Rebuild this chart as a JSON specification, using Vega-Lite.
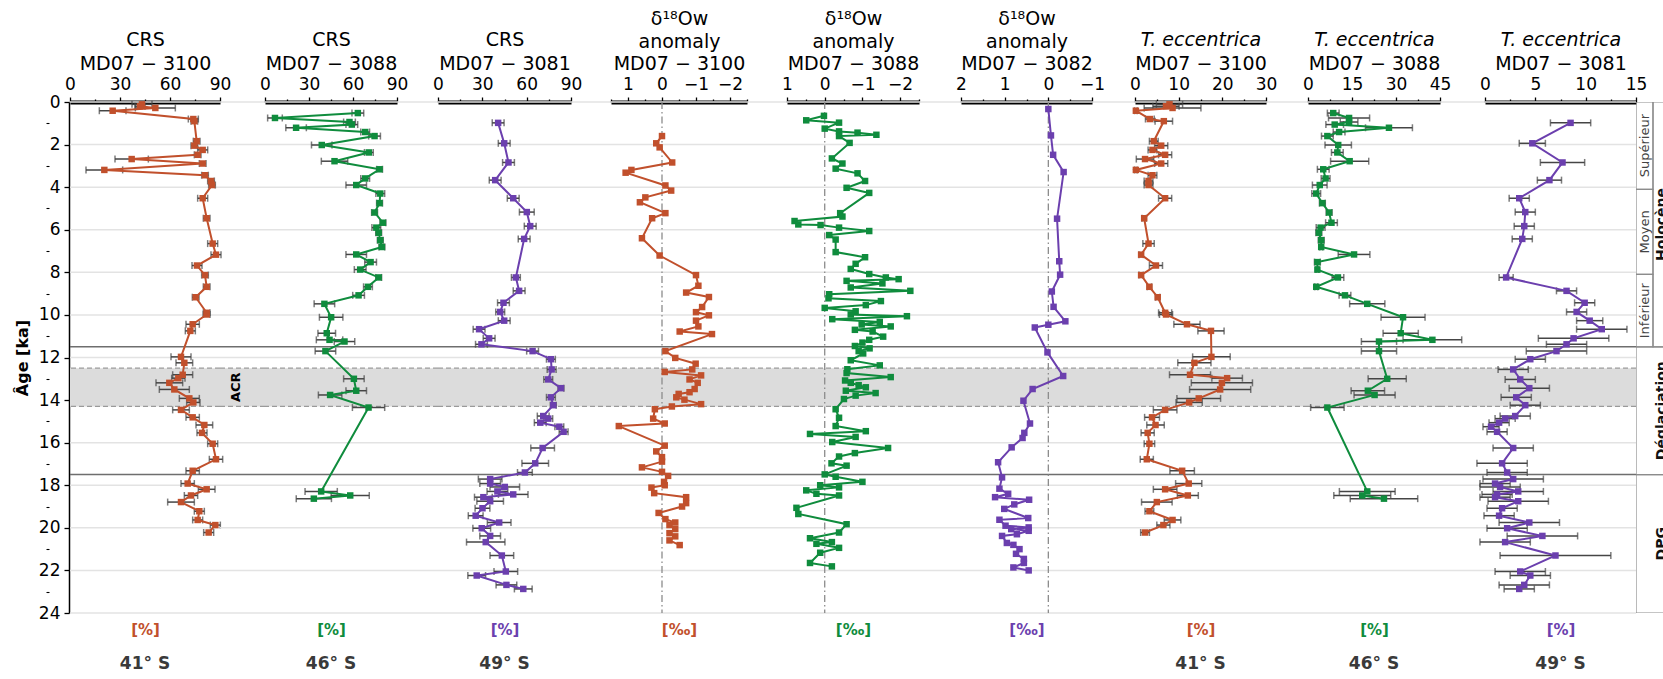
{
"$schema": "https://vega.github.io/schema/vega-lite/v6.json",
"padding": {"left": 14, "top": 9, "right": 0, "bottom": 0},
"background": "white",
"spacing": 0,
"bounds": "flush",
"datasets": {
"gridlines": [{"age": 0}, {"age": 2}, {"age": 4}, {"age": 6}, {"age": 8}, {"age": 10}, {"age": 12}, {"age": 14}, {"age": 16}, {"age": 18}, {"age": 20}, {"age": 22}, {"age": 24}],
"band": [{"start": 12.5, "end": 14.3}],
"bandedges": [{"age": 12.5}, {"age": 14.3}],
"bounds": [{"age": 11.5}, {"age": 17.5}],
"zeroline": [{"v": 0}],
"acr": [{"label": "ACR", "age": 13.4}],
"periods": [
{"label": "Supérieur", "level": "sub", "start": 0, "end": 4.1},
{"label": "Moyen", "level": "sub", "start": 4.1, "end": 8.1},
{"label": "Inférieur", "level": "sub", "start": 8.1, "end": 11.5},
{"label": "Holocène", "level": "main", "start": 0, "end": 11.5},
{"label": "Déglaciation", "level": "main", "start": 11.5, "end": 17.5},
{"label": "DPG", "level": "main", "start": 17.5, "end": 24}],
"crs3100": [
{"age":0.11,"v":43.2,"e":6},{"age":0.2,"v":42,"e":3},{"age":0.28,"v":51.2,"e":12},{"age":0.41,"v":25.6,"e":8},{"age":0.8,"v":74,"e":3},{"age":0.9,"v":74.6,"e":2},{"age":1.84,"v":76,"e":2},{"age":2.05,"v":74.6,"e":2},{"age":2.25,"v":79.6,"e":3},{"age":2.48,"v":76.6,"e":2},{"age":2.68,"v":37,"e":10},{"age":2.89,"v":79.6,"e":2},{"age":3.19,"v":20.6,"e":11},{"age":3.44,"v":81,"e":2},{"age":3.71,"v":84.6,"e":2},{"age":3.9,"v":85.2,"e":2},{"age":4.52,"v":79.6,"e":3},{"age":5.46,"v":82,"e":2},{"age":6.65,"v":85.6,"e":3},{"age":7.17,"v":87.6,"e":3},{"age":7.68,"v":76.2,"e":3},{"age":8.13,"v":81,"e":2},{"age":8.68,"v":82,"e":2},{"age":9.17,"v":75.4,"e":2},{"age":9.9,"v":82,"e":2},{"age":9.98,"v":82,"e":2},{"age":10.44,"v":73.6,"e":4},{"age":10.75,"v":72.2,"e":3},{"age":11.97,"v":66.6,"e":6},{"age":12.25,"v":68.6,"e":5},{"age":12.81,"v":67.6,"e":6},{"age":12.97,"v":65,"e":4},{"age":13.19,"v":59.6,"e":8},{"age":13.5,"v":62.6,"e":9},{"age":13.92,"v":71.6,"e":6},{"age":14.11,"v":74,"e":4},{"age":14.46,"v":66.6,"e":5},{"age":14.81,"v":73.6,"e":4},{"age":15.17,"v":80.6,"e":5},{"age":15.54,"v":79.2,"e":3},{"age":16.05,"v":85.6,"e":3},{"age":16.78,"v":87.6,"e":4},{"age":17.32,"v":73.6,"e":4},{"age":17.92,"v":70.6,"e":4},{"age":18.19,"v":82,"e":5},{"age":18.48,"v":72.6,"e":4},{"age":18.79,"v":66.6,"e":8},{"age":19.22,"v":77.6,"e":3},{"age":19.63,"v":76.6,"e":3},{"age":19.87,"v":87.2,"e":3},{"age":20.22,"v":83.2,"e":3}],
"crs3088": [
{"age":0.52,"v":63.3,"e":4},{"age":0.75,"v":6.8,"e":5},{"age":0.94,"v":57.6,"e":4},{"age":1.06,"v":59.2,"e":4},{"age":1.21,"v":21.2,"e":7},{"age":1.41,"v":68.3,"e":3},{"age":1.6,"v":74.7,"e":4},{"age":2.02,"v":38.7,"e":7},{"age":2.37,"v":70.8,"e":3},{"age":2.78,"v":47.4,"e":9},{"age":3.16,"v":78.1,"e":2},{"age":3.59,"v":68.3,"e":3},{"age":3.9,"v":62.2,"e":7},{"age":4.3,"v":78.6,"e":3},{"age":4.75,"v":78.1,"e":2},{"age":5.19,"v":74.7,"e":2},{"age":5.67,"v":80.4,"e":2},{"age":5.9,"v":75.9,"e":3},{"age":6.14,"v":77.5,"e":2},{"age":6.49,"v":78.6,"e":2},{"age":6.81,"v":79.7,"e":2},{"age":7.16,"v":62.2,"e":7},{"age":7.52,"v":72,"e":4},{"age":7.87,"v":64.9,"e":4},{"age":8.24,"v":77.5,"e":2},{"age":8.68,"v":70.2,"e":3},{"age":9.08,"v":63.8,"e":4},{"age":9.48,"v":40.5,"e":7},{"age":10.11,"v":45.1,"e":8},{"age":10.86,"v":42.1,"e":6},{"age":11.17,"v":44,"e":9},{"age":11.25,"v":54.2,"e":7},{"age":11.7,"v":41.2,"e":7},{"age":13.0,"v":60.6,"e":7},{"age":13.56,"v":62.2,"e":7},{"age":13.76,"v":44.4,"e":8},{"age":14.35,"v":70.6,"e":11},{"age":18.29,"v":38.3,"e":11},{"age":18.48,"v":58.1,"e":13},{"age":18.63,"v":33.3,"e":12}],
"crs3081": [
{"age":0.98,"v":40.7,"e":4},{"age":1.94,"v":44.8,"e":4},{"age":2.84,"v":47.7,"e":4},{"age":3.67,"v":38.7,"e":4},{"age":4.52,"v":50.9,"e":4},{"age":5.17,"v":60.1,"e":5},{"age":5.83,"v":62.4,"e":4},{"age":6.43,"v":58.3,"e":4},{"age":8.24,"v":52.7,"e":3},{"age":8.87,"v":54.9,"e":4},{"age":9.43,"v":44.3,"e":4},{"age":9.86,"v":42.1,"e":3},{"age":10.27,"v":44.8,"e":4},{"age":10.67,"v":27.8,"e":4},{"age":11.1,"v":34.6,"e":4},{"age":11.38,"v":29.4,"e":4},{"age":11.7,"v":64,"e":4},{"age":12.08,"v":76.4,"e":3},{"age":12.56,"v":76.9,"e":3},{"age":13.03,"v":74.6,"e":3},{"age":13.44,"v":83.2,"e":2},{"age":13.87,"v":76.4,"e":3},{"age":14.24,"v":78,"e":2},{"age":14.75,"v":71.2,"e":4},{"age":14.87,"v":74.6,"e":3},{"age":15.06,"v":69.2,"e":4},{"age":15.25,"v":82.1,"e":3},{"age":15.49,"v":85,"e":3},{"age":16.25,"v":70.8,"e":8},{"age":16.97,"v":65.8,"e":9},{"age":17.4,"v":58.8,"e":5},{"age":17.71,"v":35.3,"e":8},{"age":17.92,"v":35.3,"e":7},{"age":18.08,"v":45.2,"e":10},{"age":18.29,"v":40.2,"e":7},{"age":18.43,"v":50.9,"e":10},{"age":18.56,"v":30.7,"e":6},{"age":18.75,"v":35.3,"e":9},{"age":19.08,"v":30.1,"e":5},{"age":19.43,"v":25.5,"e":5},{"age":19.75,"v":41.4,"e":8},{"age":20.02,"v":29.6,"e":6},{"age":20.38,"v":35.3,"e":7},{"age":20.67,"v":32.3,"e":13},{"age":21.3,"v":43.2,"e":8},{"age":22.05,"v":45.9,"e":8},{"age":22.24,"v":26.2,"e":6},{"age":22.68,"v":46.3,"e":7},{"age":22.87,"v":57.7,"e":6}],
"d3100": [
{"age":1.6,"v":0},{"age":1.94,"v":0.17},{"age":2.13,"v":0.07},{"age":2.84,"v":-0.3},{"age":3.19,"v":0.9},{"age":3.32,"v":1.07},{"age":3.92,"v":-0.1},{"age":4.16,"v":-0.27},{"age":4.48,"v":0.49},{"age":4.71,"v":0.65},{"age":5.22,"v":-0.1},{"age":5.46,"v":0.29},{"age":6.4,"v":0.59},{"age":7.21,"v":0.07},{"age":8.13,"v":-1.0},{"age":8.63,"v":-1.07},{"age":8.95,"v":-0.71},{"age":9.16,"v":-1.38},{"age":9.63,"v":-1.18},{"age":9.87,"v":-1.0},{"age":10.02,"v":-1.38},{"age":10.27,"v":-1.0},{"age":10.54,"v":-1.07},{"age":10.78,"v":-0.52},{"age":10.9,"v":-1.47},{"age":11.7,"v":-0.1},{"age":12.02,"v":-0.39},{"age":12.29,"v":-0.99},{"age":12.56,"v":-0.89},{"age":12.68,"v":-0.08},{"age":12.84,"v":-1.15},{"age":13.03,"v":-0.81},{"age":13.19,"v":-1.05},{"age":13.48,"v":-0.96},{"age":13.63,"v":-0.81},{"age":13.71,"v":-0.49},{"age":13.87,"v":-0.42},{"age":13.98,"v":-0.66},{"age":14.19,"v":-1.15},{"age":14.3,"v":-0.29},{"age":14.43,"v":0.21},{"age":14.87,"v":0.26},{"age":15.1,"v":-0.08},{"age":15.22,"v":1.27},{"age":16.14,"v":-0.08},{"age":16.41,"v":0.17},{"age":16.68,"v":0},{"age":16.89,"v":0},{"age":17.16,"v":0.59},{"age":17.37,"v":0},{"age":17.56,"v":-0.18},{"age":17.84,"v":-0.06},{"age":18.0,"v":-0.08},{"age":18.11,"v":0.31},{"age":18.37,"v":0.23},{"age":18.56,"v":-0.71},{"age":18.84,"v":-0.71},{"age":19.0,"v":-0.59},{"age":19.3,"v":0.1},{"age":19.59,"v":-0.1},{"age":19.75,"v":-0.39},{"age":19.87,"v":-0.22},{"age":20.06,"v":-0.39},{"age":20.25,"v":-0.22},{"age":20.4,"v":-0.39},{"age":20.59,"v":-0.22},{"age":20.81,"v":-0.52}],
"d3088": [
{"age":0.65,"v":0.02},{"age":0.86,"v":0.49},{"age":0.97,"v":-0.38},{"age":1.25,"v":0},{"age":1.38,"v":-0.38},{"age":1.44,"v":-0.87},{"age":1.54,"v":-1.37},{"age":1.6,"v":-0.38},{"age":1.92,"v":-0.66},{"age":2.65,"v":-0.19},{"age":2.89,"v":-0.47},{"age":3.13,"v":-0.29},{"age":3.35,"v":-0.87},{"age":3.71,"v":-1.07},{"age":4.03,"v":-0.58},{"age":4.27,"v":-1.18},{"age":5.22,"v":-0.41},{"age":5.38,"v":-0.47},{"age":5.59,"v":0.8},{"age":5.75,"v":0.7},{"age":5.78,"v":0.11},{"age":5.9,"v":-0.38},{"age":6.06,"v":-1.18},{"age":6.25,"v":-0.12},{"age":6.46,"v":-0.29},{"age":7.05,"v":-0.29},{"age":7.29,"v":-1.07},{"age":7.6,"v":-0.82},{"age":7.84,"v":-0.69},{"age":8.08,"v":-1.18},{"age":8.24,"v":-1.62},{"age":8.32,"v":-1.96},{"age":8.4,"v":-0.58},{"age":8.52,"v":-1.53},{"age":8.71,"v":-0.69},{"age":8.87,"v":-2.27},{"age":9.03,"v":-0.12},{"age":9.22,"v":-0.1},{"age":9.35,"v":-1.49},{"age":9.54,"v":-1.09},{"age":9.67,"v":0},{"age":9.83,"v":-0.82},{"age":9.98,"v":-0.69},{"age":10.06,"v":-2.18},{"age":10.2,"v":-0.2},{"age":10.33,"v":-1.46},{"age":10.45,"v":-0.98},{"age":10.54,"v":-1.75},{"age":10.7,"v":-0.8},{"age":10.78,"v":-1.27},{"age":11.02,"v":-1.55},{"age":11.17,"v":-1.18},{"age":11.3,"v":-1.0},{"age":11.46,"v":-0.8},{"age":11.57,"v":-1.19},{"age":11.7,"v":-0.9},{"age":11.81,"v":-1.02},{"age":12.13,"v":-0.69},{"age":12.37,"v":-1.46},{"age":12.55,"v":-0.6},{"age":12.73,"v":-0.58},{"age":12.92,"v":-1.75},{"age":13.08,"v":-0.54},{"age":13.19,"v":-0.69},{"age":13.3,"v":-0.9},{"age":13.4,"v":-1.09},{"age":13.56,"v":-0.56},{"age":13.67,"v":-1.35},{"age":13.79,"v":-0.82},{"age":13.95,"v":-0.51},{"age":14.43,"v":-0.29},{"age":14.83,"v":-0.38},{"age":15.22,"v":-0.29},{"age":15.46,"v":-1.09},{"age":15.59,"v":0.39},{"age":15.73,"v":-0.82},{"age":15.97,"v":-0.2},{"age":16.25,"v":-1.68},{"age":16.49,"v":-0.8},{"age":16.65,"v":-0.38},{"age":16.97,"v":-0.18},{"age":17.08,"v":-0.58},{"age":17.49,"v":0},{"age":17.6,"v":-0.29},{"age":17.84,"v":-1.0},{"age":18.0,"v":0.12},{"age":18.1,"v":-0.38},{"age":18.24,"v":0.49},{"age":18.4,"v":0.22},{"age":18.48,"v":-0.38},{"age":19.06,"v":0.75},{"age":19.35,"v":0.7},{"age":19.83,"v":-0.58},{"age":20.22,"v":-0.38},{"age":20.49,"v":0.39},{"age":20.67,"v":-0.19},{"age":20.75,"v":0.22},{"age":20.94,"v":-0.38},{"age":21.17,"v":0.12},{"age":21.65,"v":0.39},{"age":21.81,"v":-0.19}],
"d3082": [
{"age":0.33,"v":0},{"age":1.57,"v":-0.06},{"age":2.48,"v":-0.11},{"age":3.29,"v":-0.35},{"age":5.48,"v":-0.2},{"age":7.48,"v":-0.25},{"age":8.11,"v":-0.27},{"age":8.9,"v":-0.08},{"age":9.62,"v":-0.12},{"age":10.3,"v":-0.39},{"age":10.46,"v":0},{"age":10.59,"v":0.31},{"age":11.76,"v":0.02},{"age":12.87,"v":-0.34},{"age":13.48,"v":0.36},{"age":14.03,"v":0.57},{"age":15.1,"v":0.42},{"age":15.54,"v":0.55},{"age":15.78,"v":0.59},{"age":16.22,"v":0.84},{"age":16.92,"v":1.15},{"age":17.63,"v":1.06},{"age":18.16,"v":1.12},{"age":18.4,"v":0.92},{"age":18.56,"v":1.22},{"age":18.68,"v":0.44},{"age":18.9,"v":0.78},{"age":19.11,"v":1.01},{"age":19.54,"v":0.46},{"age":19.62,"v":1.12},{"age":19.9,"v":0.98},{"age":19.98,"v":0.45},{"age":20.06,"v":0.85},{"age":20.14,"v":0.45},{"age":20.3,"v":0.72},{"age":20.38,"v":1.06},{"age":20.71,"v":0.95},{"age":20.8,"v":0.8},{"age":21.0,"v":0.66},{"age":21.22,"v":0.74},{"age":21.46,"v":0.56},{"age":21.65,"v":0.56},{"age":21.86,"v":0.8},{"age":22.0,"v":0.45}],
"t3100": [
{"age":0.11,"v":7.9,"e":3},{"age":0.2,"v":7.1,"e":3},{"age":0.28,"v":8.6,"e":6.5},{"age":0.41,"v":0.2,"e":0.3},{"age":0.8,"v":3.4,"e":1},{"age":0.9,"v":6.6,"e":2},{"age":1.84,"v":4.3,"e":1},{"age":2.05,"v":6.0,"e":1.5},{"age":2.25,"v":4.0,"e":1},{"age":2.48,"v":6.9,"e":1.5},{"age":2.68,"v":2.3,"e":2},{"age":2.89,"v":6.0,"e":1.5},{"age":3.19,"v":0.2,"e":0.3},{"age":3.44,"v":4.0,"e":1},{"age":3.71,"v":3.1,"e":1},{"age":3.9,"v":3.1,"e":1},{"age":4.52,"v":6.9,"e":1.5},{"age":5.46,"v":2.1,"e":0.5},{"age":6.65,"v":3.1,"e":1.3},{"age":7.17,"v":1.4,"e":0.5},{"age":7.68,"v":4.8,"e":1.5},{"age":8.13,"v":1.4,"e":0.5},{"age":8.68,"v":3.3,"e":0.5},{"age":9.17,"v":5.2,"e":0.5},{"age":9.9,"v":6.9,"e":1.5},{"age":9.98,"v":7.1,"e":1.5},{"age":10.44,"v":11.9,"e":3},{"age":10.75,"v":17.4,"e":3},{"age":11.97,"v":17.5,"e":4.3},{"age":12.25,"v":13.6,"e":3.8},{"age":12.81,"v":12.6,"e":4.7},{"age":12.97,"v":21.1,"e":3.5},{"age":13.19,"v":19.9,"e":7},{"age":13.5,"v":19.5,"e":7},{"age":13.92,"v":14.6,"e":5},{"age":14.11,"v":12.4,"e":3},{"age":14.46,"v":6.9,"e":2.7},{"age":14.81,"v":3.9,"e":1.7},{"age":15.17,"v":4.7,"e":2},{"age":15.54,"v":2.9,"e":1.5},{"age":16.05,"v":3.3,"e":1.2},{"age":16.78,"v":2.7,"e":1.5},{"age":17.32,"v":10.8,"e":2.8},{"age":17.92,"v":12.3,"e":3},{"age":18.19,"v":6.9,"e":2.7},{"age":18.48,"v":12.1,"e":2.4},{"age":18.79,"v":5.0,"e":3.5},{"age":19.22,"v":3.3,"e":1},{"age":19.63,"v":8.6,"e":1.9},{"age":19.87,"v":6.5,"e":1.5},{"age":20.22,"v":2.3,"e":1}],
"t3088": [
{"age":0.52,"v":8.6,"e":2},{"age":0.75,"v":14,"e":7},{"age":0.94,"v":14,"e":3},{"age":1.06,"v":9.1,"e":3},{"age":1.21,"v":27.6,"e":8},{"age":1.41,"v":10.6,"e":2},{"age":1.6,"v":6.6,"e":2},{"age":2.02,"v":10.3,"e":4.5},{"age":2.37,"v":10,"e":2},{"age":2.78,"v":14.2,"e":6.5},{"age":3.16,"v":5.2,"e":2},{"age":3.59,"v":6,"e":1.5},{"age":3.9,"v":4,"e":2.5},{"age":4.3,"v":2.8,"e":1.5},{"age":4.75,"v":4.9,"e":1},{"age":5.19,"v":7.2,"e":1},{"age":5.67,"v":8,"e":2},{"age":5.9,"v":4.3,"e":1.5},{"age":6.14,"v":3.7,"e":1},{"age":6.49,"v":4.5,"e":1},{"age":6.81,"v":4.5,"e":0.5},{"age":7.16,"v":15.7,"e":5.4},{"age":7.52,"v":3.2,"e":1},{"age":7.87,"v":3.2,"e":0.5},{"age":8.24,"v":10.2,"e":2},{"age":8.68,"v":2.8,"e":0.5},{"age":9.08,"v":12.6,"e":2},{"age":9.48,"v":20.2,"e":6},{"age":10.11,"v":32.4,"e":7.5},{"age":10.86,"v":31.6,"e":6},{"age":11.17,"v":42.4,"e":10},{"age":11.25,"v":24.2,"e":6},{"age":11.7,"v":24.2,"e":6},{"age":13.0,"v":27,"e":6.5},{"age":13.56,"v":20.4,"e":5.7},{"age":13.76,"v":22.7,"e":7},{"age":14.35,"v":6.6,"e":5.7},{"age":18.29,"v":20.2,"e":9.5},{"age":18.48,"v":18.5,"e":9.7},{"age":18.63,"v":25.9,"e":11.5}],
"t3081": [
{"age":0.98,"v":8.5,"e":2},{"age":1.94,"v":4.7,"e":1.3},{"age":2.84,"v":7.7,"e":2.2},{"age":3.67,"v":6.4,"e":1.2},{"age":4.52,"v":3.4,"e":1},{"age":5.17,"v":4.0,"e":1},{"age":5.83,"v":3.9,"e":1},{"age":6.43,"v":3.7,"e":1},{"age":8.24,"v":2.1,"e":0.7},{"age":8.87,"v":8.1,"e":1},{"age":9.43,"v":9.9,"e":1},{"age":9.86,"v":9.1,"e":1},{"age":10.27,"v":10.4,"e":1.3},{"age":10.67,"v":11.6,"e":2.5},{"age":11.1,"v":8.8,"e":3.5},{"age":11.38,"v":8.1,"e":2},{"age":11.7,"v":7.1,"e":3},{"age":12.08,"v":4.5,"e":1.5},{"age":12.56,"v":2.8,"e":1.5},{"age":13.03,"v":3.5,"e":1.5},{"age":13.44,"v":4.4,"e":2},{"age":13.87,"v":3.1,"e":1.5},{"age":14.24,"v":4.0,"e":1.5},{"age":14.75,"v":3.0,"e":1.5},{"age":14.87,"v":2.0,"e":1},{"age":15.06,"v":1.4,"e":1},{"age":15.25,"v":0.6,"e":0.8},{"age":15.49,"v":1.2,"e":1},{"age":16.25,"v":2.8,"e":2},{"age":16.97,"v":1.7,"e":2.5},{"age":17.4,"v":2.2,"e":2},{"age":17.71,"v":2.8,"e":3},{"age":17.92,"v":1.0,"e":1.5},{"age":18.08,"v":1.5,"e":2},{"age":18.29,"v":3.3,"e":2.5},{"age":18.43,"v":1.2,"e":1.5},{"age":18.56,"v":1.0,"e":1.5},{"age":18.75,"v":3.3,"e":3},{"age":19.08,"v":1.7,"e":1.5},{"age":19.43,"v":1.4,"e":1.5},{"age":19.75,"v":4.4,"e":3},{"age":20.02,"v":2.2,"e":2},{"age":20.38,"v":5.7,"e":3.5},{"age":20.67,"v":2.0,"e":2.5},{"age":21.3,"v":7.0,"e":5.5},{"age":22.05,"v":3.5,"e":2.5},{"age":22.24,"v":4.5,"e":2},{"age":22.68,"v":3.9,"e":2.5},{"age":22.87,"v":3.4,"e":1.5}]
},
"hconcat": [
{"width": 0, "height": 511, "data": {"name": "gridlines"}, "mark": {"type": "rule", "strokeOpacity": 0}, "encoding": {"y": {"field": "age", "type": "quantitative", "scale": {"domain": [0, 24], "reverse": true, "nice": false, "zero": false}, "title": null, "axis": {"orient": "left", "values": [1,3,5,7,9,11,13,15,17,19,21,23], "grid": false, "labels": false, "ticks": true, "domain": false, "tickColor": "#000", "tickSize": 3, "tickWidth": 1.1}}}},
{"width": 1, "height": 511, "data": {"name": "gridlines"}, "mark": {"type": "rule", "strokeOpacity": 0}, "encoding": {"y": {"field": "age", "type": "quantitative", "scale": {"domain": [0, 24], "reverse": true, "nice": false, "zero": false}, "title": "Âge [ka]", "axis": {"orient": "left", "values": [0,2,4,6,8,10,12,14,16,18,20,22,24], "grid": false, "labels": true, "ticks": true, "domain": true, "domainColor": "#000", "tickColor": "#000", "labelColor": "#000", "labelFontSize": 17, "tickSize": 5, "tickWidth": 1.3, "domainWidth": 1.5, "labelPadding": 4, "titleFontSize": 16, "titleFontWeight": "bold", "titleColor": "#000", "titlePadding": 8}}}},
{"width": 150, "height": 511, "title": {"text": "41° S", "orient": "bottom", "fontSize": 17, "fontWeight": "bold", "color": "#3a3a3a", "offset": 19}, "resolve": {"axis": {"x": "independent"}}, "layer": [
{"data": {"name": "gridlines"}, "mark": {"type": "rule", "color": "#e3e3e3", "strokeWidth": 1.5}, "encoding": {"y": {"field": "age", "type": "quantitative", "scale": {"domain": [0, 24], "reverse": true, "nice": false, "zero": false}, "axis": null}}},
{"data": {"name": "band"}, "mark": {"type": "rect", "color": "#dcdcdc"}, "encoding": {"y": {"field": "start", "type": "quantitative", "scale": {"domain": [0, 24], "reverse": true, "nice": false, "zero": false}, "axis": null}, "y2": {"field": "end"}}},
{"data": {"name": "bandedges"}, "mark": {"type": "rule", "color": "#9a9a9a", "strokeDash": [5, 3], "strokeWidth": 1.3}, "encoding": {"y": {"field": "age", "type": "quantitative", "scale": {"domain": [0, 24], "reverse": true, "nice": false, "zero": false}, "axis": null}}},
{"data": {"name": "bounds"}, "mark": {"type": "rule", "color": "#6e6e6e", "strokeWidth": 1.5}, "encoding": {"y": {"field": "age", "type": "quantitative", "scale": {"domain": [0, 24], "reverse": true, "nice": false, "zero": false}, "axis": null}}},
{"data": {"name": "crs3100"}, "mark": {"type": "errorbar", "ticks": true, "size": 7, "thickness": 1.5, "color": "#454545"}, "encoding": {"x": {"field": "v", "type": "quantitative", "scale": {"domain": [0, 90], "nice": false, "zero": false}, "axis": {"orient": "bottom", "title": "[%]", "titleColor": "#c1502c"}}, "xError": {"field": "e"}, "y": {"field": "age", "type": "quantitative", "scale": {"domain": [0, 24], "reverse": true, "nice": false, "zero": false}, "axis": null}}},
{"data": {"name": "crs3100"}, "mark": {"type": "line", "color": "#c1502c", "strokeWidth": 2}, "encoding": {"x": {"field": "v", "type": "quantitative", "scale": {"domain": [0, 90], "nice": false, "zero": false}, "axis": {"orient": "top", "values": [0, 30, 60, 90], "title": "MD07 − 3100"}}, "y": {"field": "age", "type": "quantitative", "scale": {"domain": [0, 24], "reverse": true, "nice": false, "zero": false}, "axis": null}, "order": {"field": "age", "type": "quantitative"}}},
{"data": {"name": "crs3100"}, "mark": {"type": "square", "color": "#c1502c", "size": 42, "opacity": 1}, "encoding": {"x": {"field": "v", "type": "quantitative", "scale": {"domain": [0, 90], "nice": false, "zero": false}, "axis": {"orient": "top", "values": [15, 45, 75], "labels": false, "domain": false, "tickSize": 3, "title": "CRS", "titlePadding": 49}}, "y": {"field": "age", "type": "quantitative", "scale": {"domain": [0, 24], "reverse": true, "nice": false, "zero": false}, "axis": null}}}
]},
{"width": 45, "height": 511, "layer": [
{"data": {"name": "gridlines"}, "mark": {"type": "rule", "color": "#e3e3e3", "strokeWidth": 1.5}, "encoding": {"y": {"field": "age", "type": "quantitative", "scale": {"domain": [0, 24], "reverse": true, "nice": false, "zero": false}, "axis": null}}},
{"data": {"name": "band"}, "mark": {"type": "rect", "color": "#dcdcdc"}, "encoding": {"y": {"field": "start", "type": "quantitative", "scale": {"domain": [0, 24], "reverse": true, "nice": false, "zero": false}, "axis": null}, "y2": {"field": "end"}}},
{"data": {"name": "bandedges"}, "mark": {"type": "rule", "color": "#9a9a9a", "strokeDash": [5, 3], "strokeWidth": 1.3}, "encoding": {"y": {"field": "age", "type": "quantitative", "scale": {"domain": [0, 24], "reverse": true, "nice": false, "zero": false}, "axis": null}}},
{"data": {"name": "bounds"}, "mark": {"type": "rule", "color": "#6e6e6e", "strokeWidth": 1.5}, "encoding": {"y": {"field": "age", "type": "quantitative", "scale": {"domain": [0, 24], "reverse": true, "nice": false, "zero": false}, "axis": null}}},
{"data": {"name": "acr"}, "mark": {"type": "text", "angle": 270, "fontSize": 13, "fontWeight": "bold", "color": "#000", "baseline": "bottom"}, "encoding": {"y": {"field": "age", "type": "quantitative", "scale": {"domain": [0, 24], "reverse": true, "nice": false, "zero": false}, "axis": null}, "text": {"field": "label"}}}
]},
{"width": 132, "height": 511, "title": {"text": "46° S", "orient": "bottom", "fontSize": 17, "fontWeight": "bold", "color": "#3a3a3a", "offset": 19}, "resolve": {"axis": {"x": "independent"}}, "layer": [
{"data": {"name": "gridlines"}, "mark": {"type": "rule", "color": "#e3e3e3", "strokeWidth": 1.5}, "encoding": {"y": {"field": "age", "type": "quantitative", "scale": {"domain": [0, 24], "reverse": true, "nice": false, "zero": false}, "axis": null}}},
{"data": {"name": "band"}, "mark": {"type": "rect", "color": "#dcdcdc"}, "encoding": {"y": {"field": "start", "type": "quantitative", "scale": {"domain": [0, 24], "reverse": true, "nice": false, "zero": false}, "axis": null}, "y2": {"field": "end"}}},
{"data": {"name": "bandedges"}, "mark": {"type": "rule", "color": "#9a9a9a", "strokeDash": [5, 3], "strokeWidth": 1.3}, "encoding": {"y": {"field": "age", "type": "quantitative", "scale": {"domain": [0, 24], "reverse": true, "nice": false, "zero": false}, "axis": null}}},
{"data": {"name": "bounds"}, "mark": {"type": "rule", "color": "#6e6e6e", "strokeWidth": 1.5}, "encoding": {"y": {"field": "age", "type": "quantitative", "scale": {"domain": [0, 24], "reverse": true, "nice": false, "zero": false}, "axis": null}}},
{"data": {"name": "crs3088"}, "mark": {"type": "errorbar", "ticks": true, "size": 7, "thickness": 1.5, "color": "#454545"}, "encoding": {"x": {"field": "v", "type": "quantitative", "scale": {"domain": [0, 90], "nice": false, "zero": false}, "axis": {"orient": "bottom", "title": "[%]", "titleColor": "#0f8c3d"}}, "xError": {"field": "e"}, "y": {"field": "age", "type": "quantitative", "scale": {"domain": [0, 24], "reverse": true, "nice": false, "zero": false}, "axis": null}}},
{"data": {"name": "crs3088"}, "mark": {"type": "line", "color": "#0f8c3d", "strokeWidth": 2}, "encoding": {"x": {"field": "v", "type": "quantitative", "scale": {"domain": [0, 90], "nice": false, "zero": false}, "axis": {"orient": "top", "values": [0, 30, 60, 90], "title": "MD07 − 3088"}}, "y": {"field": "age", "type": "quantitative", "scale": {"domain": [0, 24], "reverse": true, "nice": false, "zero": false}, "axis": null}, "order": {"field": "age", "type": "quantitative"}}},
{"data": {"name": "crs3088"}, "mark": {"type": "square", "color": "#0f8c3d", "size": 42, "opacity": 1}, "encoding": {"x": {"field": "v", "type": "quantitative", "scale": {"domain": [0, 90], "nice": false, "zero": false}, "axis": {"orient": "top", "values": [15, 45, 75], "labels": false, "domain": false, "tickSize": 3, "title": "CRS", "titlePadding": 49}}, "y": {"field": "age", "type": "quantitative", "scale": {"domain": [0, 24], "reverse": true, "nice": false, "zero": false}, "axis": null}}}
]},
{"width": 41, "height": 511, "layer": [
{"data": {"name": "gridlines"}, "mark": {"type": "rule", "color": "#e3e3e3", "strokeWidth": 1.5}, "encoding": {"y": {"field": "age", "type": "quantitative", "scale": {"domain": [0, 24], "reverse": true, "nice": false, "zero": false}, "axis": null}}},
{"data": {"name": "band"}, "mark": {"type": "rect", "color": "#dcdcdc"}, "encoding": {"y": {"field": "start", "type": "quantitative", "scale": {"domain": [0, 24], "reverse": true, "nice": false, "zero": false}, "axis": null}, "y2": {"field": "end"}}},
{"data": {"name": "bandedges"}, "mark": {"type": "rule", "color": "#9a9a9a", "strokeDash": [5, 3], "strokeWidth": 1.3}, "encoding": {"y": {"field": "age", "type": "quantitative", "scale": {"domain": [0, 24], "reverse": true, "nice": false, "zero": false}, "axis": null}}},
{"data": {"name": "bounds"}, "mark": {"type": "rule", "color": "#6e6e6e", "strokeWidth": 1.5}, "encoding": {"y": {"field": "age", "type": "quantitative", "scale": {"domain": [0, 24], "reverse": true, "nice": false, "zero": false}, "axis": null}}}
]},
{"width": 133, "height": 511, "title": {"text": "49° S", "orient": "bottom", "fontSize": 17, "fontWeight": "bold", "color": "#3a3a3a", "offset": 19}, "resolve": {"axis": {"x": "independent"}}, "layer": [
{"data": {"name": "gridlines"}, "mark": {"type": "rule", "color": "#e3e3e3", "strokeWidth": 1.5}, "encoding": {"y": {"field": "age", "type": "quantitative", "scale": {"domain": [0, 24], "reverse": true, "nice": false, "zero": false}, "axis": null}}},
{"data": {"name": "band"}, "mark": {"type": "rect", "color": "#dcdcdc"}, "encoding": {"y": {"field": "start", "type": "quantitative", "scale": {"domain": [0, 24], "reverse": true, "nice": false, "zero": false}, "axis": null}, "y2": {"field": "end"}}},
{"data": {"name": "bandedges"}, "mark": {"type": "rule", "color": "#9a9a9a", "strokeDash": [5, 3], "strokeWidth": 1.3}, "encoding": {"y": {"field": "age", "type": "quantitative", "scale": {"domain": [0, 24], "reverse": true, "nice": false, "zero": false}, "axis": null}}},
{"data": {"name": "bounds"}, "mark": {"type": "rule", "color": "#6e6e6e", "strokeWidth": 1.5}, "encoding": {"y": {"field": "age", "type": "quantitative", "scale": {"domain": [0, 24], "reverse": true, "nice": false, "zero": false}, "axis": null}}},
{"data": {"name": "crs3081"}, "mark": {"type": "errorbar", "ticks": true, "size": 7, "thickness": 1.5, "color": "#454545"}, "encoding": {"x": {"field": "v", "type": "quantitative", "scale": {"domain": [0, 90], "nice": false, "zero": false}, "axis": {"orient": "bottom", "title": "[%]", "titleColor": "#6b3fae"}}, "xError": {"field": "e"}, "y": {"field": "age", "type": "quantitative", "scale": {"domain": [0, 24], "reverse": true, "nice": false, "zero": false}, "axis": null}}},
{"data": {"name": "crs3081"}, "mark": {"type": "line", "color": "#6b3fae", "strokeWidth": 2}, "encoding": {"x": {"field": "v", "type": "quantitative", "scale": {"domain": [0, 90], "nice": false, "zero": false}, "axis": {"orient": "top", "values": [0, 30, 60, 90], "title": "MD07 − 3081"}}, "y": {"field": "age", "type": "quantitative", "scale": {"domain": [0, 24], "reverse": true, "nice": false, "zero": false}, "axis": null}, "order": {"field": "age", "type": "quantitative"}}},
{"data": {"name": "crs3081"}, "mark": {"type": "square", "color": "#6b3fae", "size": 42, "opacity": 1}, "encoding": {"x": {"field": "v", "type": "quantitative", "scale": {"domain": [0, 90], "nice": false, "zero": false}, "axis": {"orient": "top", "values": [15, 45, 75], "labels": false, "domain": false, "tickSize": 3, "title": "CRS", "titlePadding": 49}}, "y": {"field": "age", "type": "quantitative", "scale": {"domain": [0, 24], "reverse": true, "nice": false, "zero": false}, "axis": null}}}
]},
{"width": 40, "height": 511, "layer": [
{"data": {"name": "gridlines"}, "mark": {"type": "rule", "color": "#e3e3e3", "strokeWidth": 1.5}, "encoding": {"y": {"field": "age", "type": "quantitative", "scale": {"domain": [0, 24], "reverse": true, "nice": false, "zero": false}, "axis": null}}},
{"data": {"name": "band"}, "mark": {"type": "rect", "color": "#dcdcdc"}, "encoding": {"y": {"field": "start", "type": "quantitative", "scale": {"domain": [0, 24], "reverse": true, "nice": false, "zero": false}, "axis": null}, "y2": {"field": "end"}}},
{"data": {"name": "bandedges"}, "mark": {"type": "rule", "color": "#9a9a9a", "strokeDash": [5, 3], "strokeWidth": 1.3}, "encoding": {"y": {"field": "age", "type": "quantitative", "scale": {"domain": [0, 24], "reverse": true, "nice": false, "zero": false}, "axis": null}}},
{"data": {"name": "bounds"}, "mark": {"type": "rule", "color": "#6e6e6e", "strokeWidth": 1.5}, "encoding": {"y": {"field": "age", "type": "quantitative", "scale": {"domain": [0, 24], "reverse": true, "nice": false, "zero": false}, "axis": null}}}
]},
{"width": 136, "height": 511, "resolve": {"axis": {"x": "independent"}}, "layer": [
{"data": {"name": "gridlines"}, "mark": {"type": "rule", "color": "#e3e3e3", "strokeWidth": 1.5}, "encoding": {"y": {"field": "age", "type": "quantitative", "scale": {"domain": [0, 24], "reverse": true, "nice": false, "zero": false}, "axis": null}}},
{"data": {"name": "band"}, "mark": {"type": "rect", "color": "#dcdcdc"}, "encoding": {"y": {"field": "start", "type": "quantitative", "scale": {"domain": [0, 24], "reverse": true, "nice": false, "zero": false}, "axis": null}, "y2": {"field": "end"}}},
{"data": {"name": "bandedges"}, "mark": {"type": "rule", "color": "#9a9a9a", "strokeDash": [5, 3], "strokeWidth": 1.3}, "encoding": {"y": {"field": "age", "type": "quantitative", "scale": {"domain": [0, 24], "reverse": true, "nice": false, "zero": false}, "axis": null}}},
{"data": {"name": "bounds"}, "mark": {"type": "rule", "color": "#6e6e6e", "strokeWidth": 1.5}, "encoding": {"y": {"field": "age", "type": "quantitative", "scale": {"domain": [0, 24], "reverse": true, "nice": false, "zero": false}, "axis": null}}},
{"data": {"name": "zeroline"}, "mark": {"type": "rule", "color": "#8c8c8c", "strokeWidth": 1.3, "strokeDash": [7, 3, 1.5, 3]}, "encoding": {"x": {"field": "v", "type": "quantitative", "scale": {"domain": [-2.5, 1.5], "reverse": true, "nice": false, "zero": false}, "axis": {"orient": "bottom", "title": "[‰]", "titleColor": "#c1502c"}}}},
{"data": {"name": "d3100"}, "mark": {"type": "line", "color": "#c1502c", "strokeWidth": 2}, "encoding": {"x": {"field": "v", "type": "quantitative", "scale": {"domain": [-2.5, 1.5], "reverse": true, "nice": false, "zero": false}, "axis": {"orient": "top", "values": [1, 0, -1, -2], "title": ["anomaly", "MD07 − 3100"]}}, "y": {"field": "age", "type": "quantitative", "scale": {"domain": [0, 24], "reverse": true, "nice": false, "zero": false}, "axis": null}, "order": {"field": "age", "type": "quantitative"}}},
{"data": {"name": "d3100"}, "mark": {"type": "square", "color": "#c1502c", "size": 42, "opacity": 1}, "encoding": {"x": {"field": "v", "type": "quantitative", "scale": {"domain": [-2.5, 1.5], "reverse": true, "nice": false, "zero": false}, "axis": {"orient": "top", "values": [1.5, 0.5, -0.5, -1.5, -2.5], "labels": false, "domain": false, "tickSize": 3, "title": "δ¹⁸Ow", "titlePadding": 70}}, "y": {"field": "age", "type": "quantitative", "scale": {"domain": [0, 24], "reverse": true, "nice": false, "zero": false}, "axis": null}}}
]},
{"width": 40, "height": 511, "layer": [
{"data": {"name": "gridlines"}, "mark": {"type": "rule", "color": "#e3e3e3", "strokeWidth": 1.5}, "encoding": {"y": {"field": "age", "type": "quantitative", "scale": {"domain": [0, 24], "reverse": true, "nice": false, "zero": false}, "axis": null}}},
{"data": {"name": "band"}, "mark": {"type": "rect", "color": "#dcdcdc"}, "encoding": {"y": {"field": "start", "type": "quantitative", "scale": {"domain": [0, 24], "reverse": true, "nice": false, "zero": false}, "axis": null}, "y2": {"field": "end"}}},
{"data": {"name": "bandedges"}, "mark": {"type": "rule", "color": "#9a9a9a", "strokeDash": [5, 3], "strokeWidth": 1.3}, "encoding": {"y": {"field": "age", "type": "quantitative", "scale": {"domain": [0, 24], "reverse": true, "nice": false, "zero": false}, "axis": null}}},
{"data": {"name": "bounds"}, "mark": {"type": "rule", "color": "#6e6e6e", "strokeWidth": 1.5}, "encoding": {"y": {"field": "age", "type": "quantitative", "scale": {"domain": [0, 24], "reverse": true, "nice": false, "zero": false}, "axis": null}}}
]},
{"width": 132, "height": 511, "resolve": {"axis": {"x": "independent"}}, "layer": [
{"data": {"name": "gridlines"}, "mark": {"type": "rule", "color": "#e3e3e3", "strokeWidth": 1.5}, "encoding": {"y": {"field": "age", "type": "quantitative", "scale": {"domain": [0, 24], "reverse": true, "nice": false, "zero": false}, "axis": null}}},
{"data": {"name": "band"}, "mark": {"type": "rect", "color": "#dcdcdc"}, "encoding": {"y": {"field": "start", "type": "quantitative", "scale": {"domain": [0, 24], "reverse": true, "nice": false, "zero": false}, "axis": null}, "y2": {"field": "end"}}},
{"data": {"name": "bandedges"}, "mark": {"type": "rule", "color": "#9a9a9a", "strokeDash": [5, 3], "strokeWidth": 1.3}, "encoding": {"y": {"field": "age", "type": "quantitative", "scale": {"domain": [0, 24], "reverse": true, "nice": false, "zero": false}, "axis": null}}},
{"data": {"name": "bounds"}, "mark": {"type": "rule", "color": "#6e6e6e", "strokeWidth": 1.5}, "encoding": {"y": {"field": "age", "type": "quantitative", "scale": {"domain": [0, 24], "reverse": true, "nice": false, "zero": false}, "axis": null}}},
{"data": {"name": "zeroline"}, "mark": {"type": "rule", "color": "#8c8c8c", "strokeWidth": 1.3, "strokeDash": [7, 3, 1.5, 3]}, "encoding": {"x": {"field": "v", "type": "quantitative", "scale": {"domain": [-2.5, 1], "reverse": true, "nice": false, "zero": false}, "axis": {"orient": "bottom", "title": "[‰]", "titleColor": "#0f8c3d"}}}},
{"data": {"name": "d3088"}, "mark": {"type": "line", "color": "#0f8c3d", "strokeWidth": 2}, "encoding": {"x": {"field": "v", "type": "quantitative", "scale": {"domain": [-2.5, 1], "reverse": true, "nice": false, "zero": false}, "axis": {"orient": "top", "values": [1, 0, -1, -2], "title": ["anomaly", "MD07 − 3088"]}}, "y": {"field": "age", "type": "quantitative", "scale": {"domain": [0, 24], "reverse": true, "nice": false, "zero": false}, "axis": null}, "order": {"field": "age", "type": "quantitative"}}},
{"data": {"name": "d3088"}, "mark": {"type": "square", "color": "#0f8c3d", "size": 42, "opacity": 1}, "encoding": {"x": {"field": "v", "type": "quantitative", "scale": {"domain": [-2.5, 1], "reverse": true, "nice": false, "zero": false}, "axis": {"orient": "top", "values": [0.5, -0.5, -1.5, -2.5], "labels": false, "domain": false, "tickSize": 3, "title": "δ¹⁸Ow", "titlePadding": 70}}, "y": {"field": "age", "type": "quantitative", "scale": {"domain": [0, 24], "reverse": true, "nice": false, "zero": false}, "axis": null}}}
]},
{"width": 42, "height": 511, "layer": [
{"data": {"name": "gridlines"}, "mark": {"type": "rule", "color": "#e3e3e3", "strokeWidth": 1.5}, "encoding": {"y": {"field": "age", "type": "quantitative", "scale": {"domain": [0, 24], "reverse": true, "nice": false, "zero": false}, "axis": null}}},
{"data": {"name": "band"}, "mark": {"type": "rect", "color": "#dcdcdc"}, "encoding": {"y": {"field": "start", "type": "quantitative", "scale": {"domain": [0, 24], "reverse": true, "nice": false, "zero": false}, "axis": null}, "y2": {"field": "end"}}},
{"data": {"name": "bandedges"}, "mark": {"type": "rule", "color": "#9a9a9a", "strokeDash": [5, 3], "strokeWidth": 1.3}, "encoding": {"y": {"field": "age", "type": "quantitative", "scale": {"domain": [0, 24], "reverse": true, "nice": false, "zero": false}, "axis": null}}},
{"data": {"name": "bounds"}, "mark": {"type": "rule", "color": "#6e6e6e", "strokeWidth": 1.5}, "encoding": {"y": {"field": "age", "type": "quantitative", "scale": {"domain": [0, 24], "reverse": true, "nice": false, "zero": false}, "axis": null}}}
]},
{"width": 131, "height": 511, "resolve": {"axis": {"x": "independent"}}, "layer": [
{"data": {"name": "gridlines"}, "mark": {"type": "rule", "color": "#e3e3e3", "strokeWidth": 1.5}, "encoding": {"y": {"field": "age", "type": "quantitative", "scale": {"domain": [0, 24], "reverse": true, "nice": false, "zero": false}, "axis": null}}},
{"data": {"name": "band"}, "mark": {"type": "rect", "color": "#dcdcdc"}, "encoding": {"y": {"field": "start", "type": "quantitative", "scale": {"domain": [0, 24], "reverse": true, "nice": false, "zero": false}, "axis": null}, "y2": {"field": "end"}}},
{"data": {"name": "bandedges"}, "mark": {"type": "rule", "color": "#9a9a9a", "strokeDash": [5, 3], "strokeWidth": 1.3}, "encoding": {"y": {"field": "age", "type": "quantitative", "scale": {"domain": [0, 24], "reverse": true, "nice": false, "zero": false}, "axis": null}}},
{"data": {"name": "bounds"}, "mark": {"type": "rule", "color": "#6e6e6e", "strokeWidth": 1.5}, "encoding": {"y": {"field": "age", "type": "quantitative", "scale": {"domain": [0, 24], "reverse": true, "nice": false, "zero": false}, "axis": null}}},
{"data": {"name": "zeroline"}, "mark": {"type": "rule", "color": "#8c8c8c", "strokeWidth": 1.3, "strokeDash": [7, 3, 1.5, 3]}, "encoding": {"x": {"field": "v", "type": "quantitative", "scale": {"domain": [-1, 2], "reverse": true, "nice": false, "zero": false}, "axis": {"orient": "bottom", "title": "[‰]", "titleColor": "#6b3fae"}}}},
{"data": {"name": "d3082"}, "mark": {"type": "line", "color": "#6b3fae", "strokeWidth": 2}, "encoding": {"x": {"field": "v", "type": "quantitative", "scale": {"domain": [-1, 2], "reverse": true, "nice": false, "zero": false}, "axis": {"orient": "top", "values": [2, 1, 0, -1], "title": ["anomaly", "MD07 − 3082"]}}, "y": {"field": "age", "type": "quantitative", "scale": {"domain": [0, 24], "reverse": true, "nice": false, "zero": false}, "axis": null}, "order": {"field": "age", "type": "quantitative"}}},
{"data": {"name": "d3082"}, "mark": {"type": "square", "color": "#6b3fae", "size": 42, "opacity": 1}, "encoding": {"x": {"field": "v", "type": "quantitative", "scale": {"domain": [-1, 2], "reverse": true, "nice": false, "zero": false}, "axis": {"orient": "top", "values": [1.5, 0.5, -0.5], "labels": false, "domain": false, "tickSize": 3, "title": "δ¹⁸Ow", "titlePadding": 70}}, "y": {"field": "age", "type": "quantitative", "scale": {"domain": [0, 24], "reverse": true, "nice": false, "zero": false}, "axis": null}}}
]},
{"width": 43, "height": 511, "layer": [
{"data": {"name": "gridlines"}, "mark": {"type": "rule", "color": "#e3e3e3", "strokeWidth": 1.5}, "encoding": {"y": {"field": "age", "type": "quantitative", "scale": {"domain": [0, 24], "reverse": true, "nice": false, "zero": false}, "axis": null}}},
{"data": {"name": "band"}, "mark": {"type": "rect", "color": "#dcdcdc"}, "encoding": {"y": {"field": "start", "type": "quantitative", "scale": {"domain": [0, 24], "reverse": true, "nice": false, "zero": false}, "axis": null}, "y2": {"field": "end"}}},
{"data": {"name": "bandedges"}, "mark": {"type": "rule", "color": "#9a9a9a", "strokeDash": [5, 3], "strokeWidth": 1.3}, "encoding": {"y": {"field": "age", "type": "quantitative", "scale": {"domain": [0, 24], "reverse": true, "nice": false, "zero": false}, "axis": null}}},
{"data": {"name": "bounds"}, "mark": {"type": "rule", "color": "#6e6e6e", "strokeWidth": 1.5}, "encoding": {"y": {"field": "age", "type": "quantitative", "scale": {"domain": [0, 24], "reverse": true, "nice": false, "zero": false}, "axis": null}}}
]},
{"width": 131, "height": 511, "title": {"text": "41° S", "orient": "bottom", "fontSize": 17, "fontWeight": "bold", "color": "#3a3a3a", "offset": 19}, "resolve": {"axis": {"x": "independent"}}, "layer": [
{"data": {"name": "gridlines"}, "mark": {"type": "rule", "color": "#e3e3e3", "strokeWidth": 1.5}, "encoding": {"y": {"field": "age", "type": "quantitative", "scale": {"domain": [0, 24], "reverse": true, "nice": false, "zero": false}, "axis": null}}},
{"data": {"name": "band"}, "mark": {"type": "rect", "color": "#dcdcdc"}, "encoding": {"y": {"field": "start", "type": "quantitative", "scale": {"domain": [0, 24], "reverse": true, "nice": false, "zero": false}, "axis": null}, "y2": {"field": "end"}}},
{"data": {"name": "bandedges"}, "mark": {"type": "rule", "color": "#9a9a9a", "strokeDash": [5, 3], "strokeWidth": 1.3}, "encoding": {"y": {"field": "age", "type": "quantitative", "scale": {"domain": [0, 24], "reverse": true, "nice": false, "zero": false}, "axis": null}}},
{"data": {"name": "bounds"}, "mark": {"type": "rule", "color": "#6e6e6e", "strokeWidth": 1.5}, "encoding": {"y": {"field": "age", "type": "quantitative", "scale": {"domain": [0, 24], "reverse": true, "nice": false, "zero": false}, "axis": null}}},
{"data": {"name": "t3100"}, "mark": {"type": "errorbar", "ticks": true, "size": 7, "thickness": 1.5, "color": "#454545"}, "encoding": {"x": {"field": "v", "type": "quantitative", "scale": {"domain": [0, 30], "nice": false, "zero": false}, "axis": {"orient": "bottom", "title": "[%]", "titleColor": "#c1502c"}}, "xError": {"field": "e"}, "y": {"field": "age", "type": "quantitative", "scale": {"domain": [0, 24], "reverse": true, "nice": false, "zero": false}, "axis": null}}},
{"data": {"name": "t3100"}, "mark": {"type": "line", "color": "#c1502c", "strokeWidth": 2}, "encoding": {"x": {"field": "v", "type": "quantitative", "scale": {"domain": [0, 30], "nice": false, "zero": false}, "axis": {"orient": "top", "values": [0, 10, 20, 30], "title": "MD07 − 3100"}}, "y": {"field": "age", "type": "quantitative", "scale": {"domain": [0, 24], "reverse": true, "nice": false, "zero": false}, "axis": null}, "order": {"field": "age", "type": "quantitative"}}},
{"data": {"name": "t3100"}, "mark": {"type": "square", "color": "#c1502c", "size": 42, "opacity": 1}, "encoding": {"x": {"field": "v", "type": "quantitative", "scale": {"domain": [0, 30], "nice": false, "zero": false}, "axis": {"orient": "top", "values": [5, 15, 25], "labels": false, "domain": false, "tickSize": 3, "title": "T. eccentrica", "titleFontStyle": "italic", "titlePadding": 49}}, "y": {"field": "age", "type": "quantitative", "scale": {"domain": [0, 24], "reverse": true, "nice": false, "zero": false}, "axis": null}}}
]},
{"width": 42, "height": 511, "layer": [
{"data": {"name": "gridlines"}, "mark": {"type": "rule", "color": "#e3e3e3", "strokeWidth": 1.5}, "encoding": {"y": {"field": "age", "type": "quantitative", "scale": {"domain": [0, 24], "reverse": true, "nice": false, "zero": false}, "axis": null}}},
{"data": {"name": "band"}, "mark": {"type": "rect", "color": "#dcdcdc"}, "encoding": {"y": {"field": "start", "type": "quantitative", "scale": {"domain": [0, 24], "reverse": true, "nice": false, "zero": false}, "axis": null}, "y2": {"field": "end"}}},
{"data": {"name": "bandedges"}, "mark": {"type": "rule", "color": "#9a9a9a", "strokeDash": [5, 3], "strokeWidth": 1.3}, "encoding": {"y": {"field": "age", "type": "quantitative", "scale": {"domain": [0, 24], "reverse": true, "nice": false, "zero": false}, "axis": null}}},
{"data": {"name": "bounds"}, "mark": {"type": "rule", "color": "#6e6e6e", "strokeWidth": 1.5}, "encoding": {"y": {"field": "age", "type": "quantitative", "scale": {"domain": [0, 24], "reverse": true, "nice": false, "zero": false}, "axis": null}}}
]},
{"width": 132, "height": 511, "title": {"text": "46° S", "orient": "bottom", "fontSize": 17, "fontWeight": "bold", "color": "#3a3a3a", "offset": 19}, "resolve": {"axis": {"x": "independent"}}, "layer": [
{"data": {"name": "gridlines"}, "mark": {"type": "rule", "color": "#e3e3e3", "strokeWidth": 1.5}, "encoding": {"y": {"field": "age", "type": "quantitative", "scale": {"domain": [0, 24], "reverse": true, "nice": false, "zero": false}, "axis": null}}},
{"data": {"name": "band"}, "mark": {"type": "rect", "color": "#dcdcdc"}, "encoding": {"y": {"field": "start", "type": "quantitative", "scale": {"domain": [0, 24], "reverse": true, "nice": false, "zero": false}, "axis": null}, "y2": {"field": "end"}}},
{"data": {"name": "bandedges"}, "mark": {"type": "rule", "color": "#9a9a9a", "strokeDash": [5, 3], "strokeWidth": 1.3}, "encoding": {"y": {"field": "age", "type": "quantitative", "scale": {"domain": [0, 24], "reverse": true, "nice": false, "zero": false}, "axis": null}}},
{"data": {"name": "bounds"}, "mark": {"type": "rule", "color": "#6e6e6e", "strokeWidth": 1.5}, "encoding": {"y": {"field": "age", "type": "quantitative", "scale": {"domain": [0, 24], "reverse": true, "nice": false, "zero": false}, "axis": null}}},
{"data": {"name": "t3088"}, "mark": {"type": "errorbar", "ticks": true, "size": 7, "thickness": 1.5, "color": "#454545"}, "encoding": {"x": {"field": "v", "type": "quantitative", "scale": {"domain": [0, 45], "nice": false, "zero": false}, "axis": {"orient": "bottom", "title": "[%]", "titleColor": "#0f8c3d"}}, "xError": {"field": "e"}, "y": {"field": "age", "type": "quantitative", "scale": {"domain": [0, 24], "reverse": true, "nice": false, "zero": false}, "axis": null}}},
{"data": {"name": "t3088"}, "mark": {"type": "line", "color": "#0f8c3d", "strokeWidth": 2}, "encoding": {"x": {"field": "v", "type": "quantitative", "scale": {"domain": [0, 45], "nice": false, "zero": false}, "axis": {"orient": "top", "values": [0, 15, 30, 45], "title": "MD07 − 3088"}}, "y": {"field": "age", "type": "quantitative", "scale": {"domain": [0, 24], "reverse": true, "nice": false, "zero": false}, "axis": null}, "order": {"field": "age", "type": "quantitative"}}},
{"data": {"name": "t3088"}, "mark": {"type": "square", "color": "#0f8c3d", "size": 42, "opacity": 1}, "encoding": {"x": {"field": "v", "type": "quantitative", "scale": {"domain": [0, 45], "nice": false, "zero": false}, "axis": {"orient": "top", "values": [7.5, 22.5, 37.5], "labels": false, "domain": false, "tickSize": 3, "title": "T. eccentrica", "titleFontStyle": "italic", "titlePadding": 49}}, "y": {"field": "age", "type": "quantitative", "scale": {"domain": [0, 24], "reverse": true, "nice": false, "zero": false}, "axis": null}}}
]},
{"width": 45, "height": 511, "layer": [
{"data": {"name": "gridlines"}, "mark": {"type": "rule", "color": "#e3e3e3", "strokeWidth": 1.5}, "encoding": {"y": {"field": "age", "type": "quantitative", "scale": {"domain": [0, 24], "reverse": true, "nice": false, "zero": false}, "axis": null}}},
{"data": {"name": "band"}, "mark": {"type": "rect", "color": "#dcdcdc"}, "encoding": {"y": {"field": "start", "type": "quantitative", "scale": {"domain": [0, 24], "reverse": true, "nice": false, "zero": false}, "axis": null}, "y2": {"field": "end"}}},
{"data": {"name": "bandedges"}, "mark": {"type": "rule", "color": "#9a9a9a", "strokeDash": [5, 3], "strokeWidth": 1.3}, "encoding": {"y": {"field": "age", "type": "quantitative", "scale": {"domain": [0, 24], "reverse": true, "nice": false, "zero": false}, "axis": null}}},
{"data": {"name": "bounds"}, "mark": {"type": "rule", "color": "#6e6e6e", "strokeWidth": 1.5}, "encoding": {"y": {"field": "age", "type": "quantitative", "scale": {"domain": [0, 24], "reverse": true, "nice": false, "zero": false}, "axis": null}}}
]},
{"width": 151, "height": 511, "title": {"text": "49° S", "orient": "bottom", "fontSize": 17, "fontWeight": "bold", "color": "#3a3a3a", "offset": 19}, "resolve": {"axis": {"x": "independent"}}, "layer": [
{"data": {"name": "gridlines"}, "mark": {"type": "rule", "color": "#e3e3e3", "strokeWidth": 1.5}, "encoding": {"y": {"field": "age", "type": "quantitative", "scale": {"domain": [0, 24], "reverse": true, "nice": false, "zero": false}, "axis": null}}},
{"data": {"name": "band"}, "mark": {"type": "rect", "color": "#dcdcdc"}, "encoding": {"y": {"field": "start", "type": "quantitative", "scale": {"domain": [0, 24], "reverse": true, "nice": false, "zero": false}, "axis": null}, "y2": {"field": "end"}}},
{"data": {"name": "bandedges"}, "mark": {"type": "rule", "color": "#9a9a9a", "strokeDash": [5, 3], "strokeWidth": 1.3}, "encoding": {"y": {"field": "age", "type": "quantitative", "scale": {"domain": [0, 24], "reverse": true, "nice": false, "zero": false}, "axis": null}}},
{"data": {"name": "bounds"}, "mark": {"type": "rule", "color": "#6e6e6e", "strokeWidth": 1.5}, "encoding": {"y": {"field": "age", "type": "quantitative", "scale": {"domain": [0, 24], "reverse": true, "nice": false, "zero": false}, "axis": null}}},
{"data": {"name": "t3081"}, "mark": {"type": "errorbar", "ticks": true, "size": 7, "thickness": 1.5, "color": "#454545"}, "encoding": {"x": {"field": "v", "type": "quantitative", "scale": {"domain": [0, 15], "nice": false, "zero": false}, "axis": {"orient": "bottom", "title": "[%]", "titleColor": "#6b3fae"}}, "xError": {"field": "e"}, "y": {"field": "age", "type": "quantitative", "scale": {"domain": [0, 24], "reverse": true, "nice": false, "zero": false}, "axis": null}}},
{"data": {"name": "t3081"}, "mark": {"type": "line", "color": "#6b3fae", "strokeWidth": 2}, "encoding": {"x": {"field": "v", "type": "quantitative", "scale": {"domain": [0, 15], "nice": false, "zero": false}, "axis": {"orient": "top", "values": [0, 5, 10, 15], "title": "MD07 − 3081"}}, "y": {"field": "age", "type": "quantitative", "scale": {"domain": [0, 24], "reverse": true, "nice": false, "zero": false}, "axis": null}, "order": {"field": "age", "type": "quantitative"}}},
{"data": {"name": "t3081"}, "mark": {"type": "square", "color": "#6b3fae", "size": 42, "opacity": 1}, "encoding": {"x": {"field": "v", "type": "quantitative", "scale": {"domain": [0, 15], "nice": false, "zero": false}, "axis": {"orient": "top", "values": [2.5, 7.5, 12.5], "labels": false, "domain": false, "tickSize": 3, "title": "T. eccentrica", "titleFontStyle": "italic", "titlePadding": 49}}, "y": {"field": "age", "type": "quantitative", "scale": {"domain": [0, 24], "reverse": true, "nice": false, "zero": false}, "axis": null}}}
]},
{"width": 28, "height": 511, "layer": [
{"data": {"name": "periods"}, "transform": [{"filter": "datum.level === 'sub' || datum.label === 'Holocène'"}], "mark": {"type": "rect", "fillOpacity": 0, "stroke": "#8c8c8c", "strokeWidth": 1.2, "clip": true}, "encoding": {"x": {"field": "level", "type": "nominal", "scale": {"domain": ["sub", "main"], "range": [0, 34], "paddingInner": 0, "paddingOuter": 0}, "axis": null}, "y": {"field": "start", "type": "quantitative", "scale": {"domain": [0, 24], "reverse": true, "nice": false, "zero": false}, "axis": null}, "y2": {"field": "end"}}},
{"data": {"name": "periods"}, "transform": [{"filter": "datum.start >= 11.5"}], "mark": {"type": "rect", "fillOpacity": 0, "stroke": "#8c8c8c", "strokeWidth": 1.2, "clip": true}, "encoding": {"y": {"field": "start", "type": "quantitative", "scale": {"domain": [0, 24], "reverse": true, "nice": false, "zero": false}, "axis": null}, "y2": {"field": "end"}}},
{"data": {"name": "periods"}, "transform": [{"filter": "datum.level === 'sub'"}, {"calculate": "(datum.start + datum.end) / 2", "as": "mid"}], "mark": {"type": "text", "angle": 270, "fontSize": 13, "color": "#444", "clip": true}, "encoding": {"x": {"field": "level", "type": "nominal", "scale": {"domain": ["sub", "main"], "range": [0, 34], "paddingInner": 0, "paddingOuter": 0}, "axis": null}, "y": {"field": "mid", "type": "quantitative", "scale": {"domain": [0, 24], "reverse": true, "nice": false, "zero": false}, "axis": null}, "text": {"field": "label"}}},
{"data": {"name": "periods"}, "transform": [{"filter": "datum.level === 'main'"}, {"calculate": "(datum.start + datum.end) / 2", "as": "mid"}], "mark": {"type": "text", "angle": 270, "fontSize": 14, "fontWeight": "bold", "color": "#111", "clip": true}, "encoding": {"x": {"field": "level", "type": "nominal", "scale": {"domain": ["sub", "main"], "range": [0, 34], "paddingInner": 0, "paddingOuter": 0}, "axis": null}, "y": {"field": "mid", "type": "quantitative", "scale": {"domain": [0, 24], "reverse": true, "nice": false, "zero": false}, "axis": null}, "text": {"field": "label"}}}
]}
],
"config": {
"font": "DejaVu Sans",
"view": {"stroke": null},
"axis": {"labelFontSize": 17, "labelColor": "#000", "tickColor": "#000", "domainColor": "#000", "titleColor": "#000", "titleFontWeight": "normal", "titleFontSize": 19, "labelFlush": false, "labelOverlap": false, "titleLineHeight": 22, "labelFont": "DejaVu Sans", "titleFont": "DejaVu Sans", "grid": false},
"axisTop": {"tickSize": 5, "tickWidth": 1.3, "domainWidth": 4, "labelPadding": 4, "titlePadding": 2, "zindex": 1},
"axisBottom": {"labels": false, "ticks": false, "domain": false, "titleFontSize": 15, "titleFontWeight": "bold", "titlePadding": 9}
}
}
